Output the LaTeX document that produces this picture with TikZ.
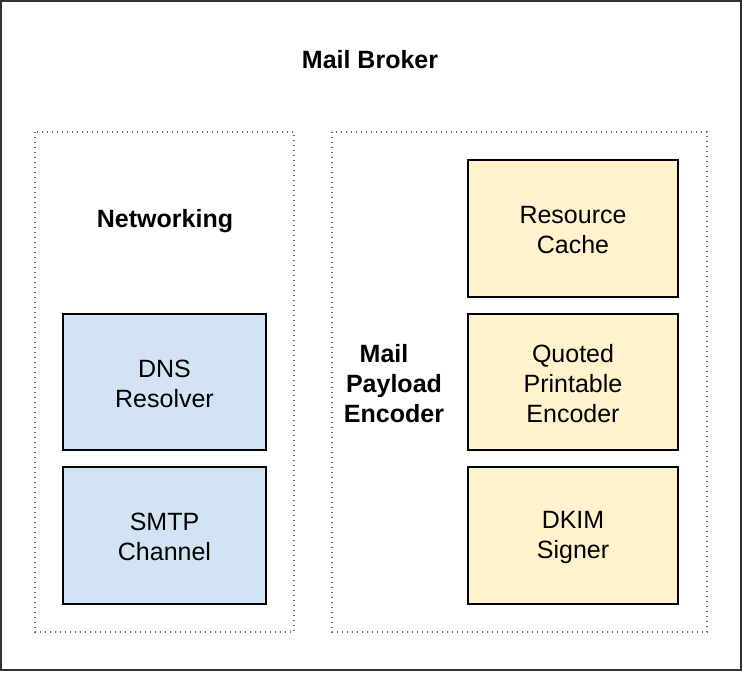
\documentclass[tikz,border=0pt]{standalone}
\usepackage{fontspec}
\setmainfont{Liberation Sans}
\definecolor{bluefill}{HTML}{D2E3F4}
\definecolor{yellowfill}{HTML}{FFF2CC}
\definecolor{dotgray}{HTML}{666666}
\definecolor{framegray}{HTML}{333333}
\begin{document}
\begin{tikzpicture}[x=1pt,y=-1pt,
  every node/.style={font=\fontsize{25}{30}\selectfont, align=center, inner sep=0pt},
  comp/.style={draw=black, line width=1.3pt},
  bluebox/.style={comp, fill=bluefill},
  yellowbox/.style={comp, fill=yellowfill},
  group/.style={draw=dotgray, line width=1.2pt, dash pattern=on 1.3pt off 3.7pt},
  title/.style={font=\bfseries\fontsize{25}{30}\selectfont}
]
\useasboundingbox (0,0) rectangle (743,674);
\draw[draw=framegray, line width=1.3pt] (1,1) rectangle (741,670);
\node[title] (broker) at (370,60) {Mail Broker};
% groups
\draw[group] (35,132) rectangle (294,632);
\draw[group] (332,132) rectangle (707,632);
\node[title] (net) at (165,221) {Networking};
\node[title] (enc) at (394,384) {\hspace*{-20pt}Mail\\Payload\\Encoder};
% blue boxes
\draw[bluebox] (63,314) rectangle (266,450);
\node (dns) at (164.5,384) {DNS\\Resolver};
\draw[bluebox] (63,467) rectangle (266,604);
\node (smtp) at (164.5,537) {SMTP\\Channel};
% yellow boxes
\draw[yellowbox] (468,160) rectangle (678,297);
\node (cache) at (573,230) {Resource\\Cache};
\draw[yellowbox] (468,314) rectangle (678,450);
\node (qp) at (573,384) {Quoted\\Printable\\Encoder};
\draw[yellowbox] (468,467) rectangle (678,604);
\node (dkim) at (573,537) {DKIM\\Signer};
\end{tikzpicture}
\end{document}
